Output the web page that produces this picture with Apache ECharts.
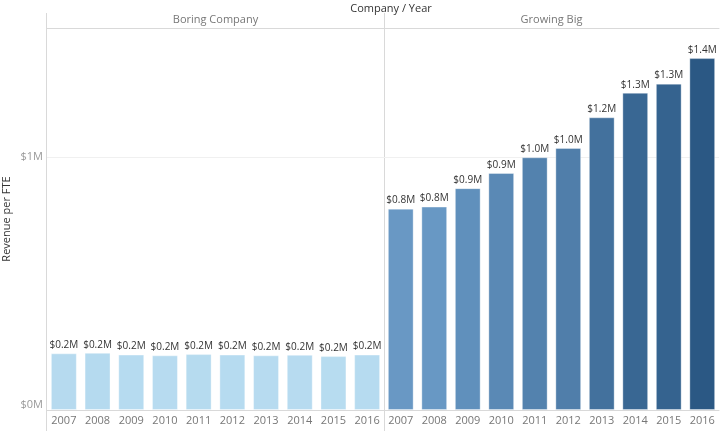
<!DOCTYPE html>
<html>
<head>
<meta charset="utf-8">
<style>
  html, body { margin: 0; padding: 0; background: #fff; }
  #main { width: 720px; height: 431px; }
</style>
</head>
<body>
<div id="main"></div>
<script src="https://cdn.jsdelivr.net/npm/echarts@6/dist/echarts.min.js"></script>
<script type="text/javascript">
// data (millions of dollars per FTE)
var years = ['2007', '2008', '2009', '2010', '2011', '2012', '2013', '2014', '2015', '2016'];
var companies = ['Boring Company', 'Growing Big'];
var boring = [0.224, 0.226, 0.219, 0.216, 0.221, 0.219, 0.216, 0.218, 0.213, 0.219];
var growing = [0.796, 0.804, 0.877, 0.937, 0.999, 1.036, 1.157, 1.254, 1.290, 1.391];

var font = 'Open Sans';
var lineColor = '#d9d9d9';

function money(v) {
  return '$' + v.toFixed(1) + 'M';
}

function xAxisFor(i) {
  return {
    type: 'category',
    gridIndex: i,
    data: years,
    axisLine: { lineStyle: { color: lineColor } },
    axisTick: { show: false },
    axisLabel: { color: '#777', fontSize: 11, fontFamily: font, margin: 5 }
  };
}

function headerFor(i) {
  return {
    type: 'category',
    gridIndex: i,
    position: 'top',
    data: [companies[i]],
    axisLine: { lineStyle: { color: lineColor } },
    axisTick: { show: false },
    axisLabel: { color: '#777', fontSize: 11, fontFamily: font, margin: 3 }
  };
}

function yAxisFor(i) {
  return {
    type: 'value',
    gridIndex: i,
    min: 0,
    max: 1.51,
    interval: 1,
    axisLine: { show: false },
    axisTick: { show: false },
    axisLabel: {
      show: i === 0,
      color: '#999',
      fontSize: 11,
      fontFamily: font,
      margin: 4,
      verticalAlignMinLabel: 'bottom',
      formatter: function (v) { return v % 1 === 0 ? '$' + v + 'M' : ''; }
    },
    splitLine: { lineStyle: { color: '#f0f0f0' } },
    name: i === 0 ? 'Revenue per FTE' : '',
    nameLocation: 'middle',
    nameGap: 35,
    nameTextStyle: { color: '#333', fontSize: 11, fontFamily: font }
  };
}

function barSeries(i, data) {
  return {
    type: 'bar',
    xAxisIndex: i * 2,
    yAxisIndex: i,
    data: data,
    barCategoryGap: '23%',
    itemStyle: { borderColor: 'rgba(255,255,255,0.35)', borderWidth: 1 },
    label: {
      show: true,
      position: 'top',
      distance: 3,
      color: '#333',
      fontSize: 10,
      fontFamily: font,
      formatter: function (p) { return money(p.value); }
    }
  };
}

var chart = echarts.init(document.getElementById('main'));
chart.setOption({
  animation: false,
  title: {
    text: 'Company / Year',
    left: 386,
    textAlign: 'center',
    top: -2,
    textStyle: { color: '#333', fontSize: 11, fontWeight: 'normal', fontFamily: font }
  },
  grid: [
    { left: 46, right: 336, top: 28, bottom: 21 },
    { left: 384, right: 1, top: 28, bottom: 21 }
  ],
  xAxis: [xAxisFor(0), headerFor(0), xAxisFor(1), headerFor(1)],
  yAxis: [yAxisFor(0), yAxisFor(1)],
  visualMap: {
    show: false,
    type: 'continuous',
    min: 0.2,
    max: 1.4,
    seriesIndex: [0, 1],
    inRange: { color: ['#b9ddf1', '#6898c4', '#2a5783'] }
  },
  graphic: [
    { type: 'line', shape: { x1: 46.5, y1: 13, x2: 46.5, y2: 431 }, style: { stroke: lineColor, lineWidth: 1 } },
    { type: 'line', shape: { x1: 384.5, y1: 13, x2: 384.5, y2: 431 }, style: { stroke: lineColor, lineWidth: 1 } }
  ],
  series: [barSeries(0, boring), barSeries(1, growing)]
});
</script>
</body>
</html>
